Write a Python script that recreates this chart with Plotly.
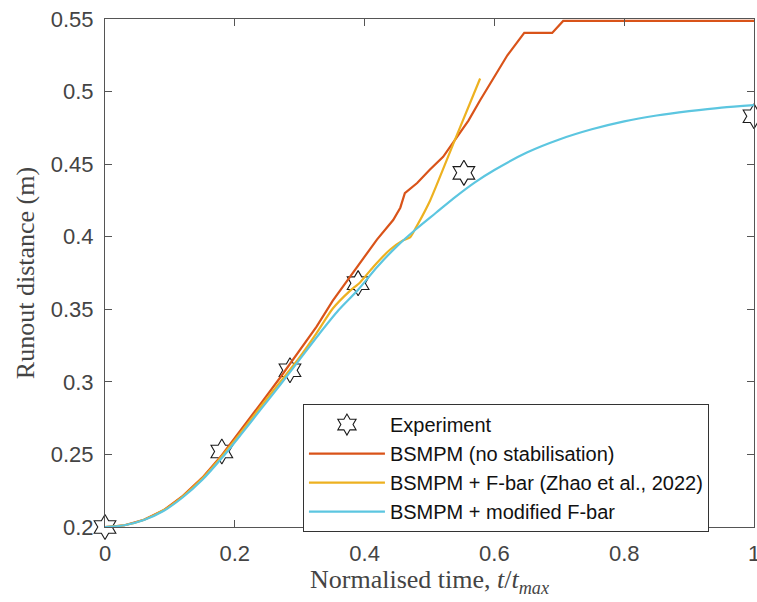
import plotly.graph_objects as go

# Experiment
t_exp = [0, 0.18, 0.285, 0.39, 0.553, 1.0]
y_exp = [0.2, 0.252, 0.308, 0.368, 0.444, 0.483]

# BSMPM (no stabilisation)
t_red = [0, 0.03, 0.06, 0.09, 0.12, 0.15, 0.18, 0.21, 0.24, 0.27, 0.30, 0.326, 0.351, 0.377,
         0.393, 0.419, 0.444, 0.455, 0.462, 0.481, 0.50, 0.521, 0.539, 0.56, 0.578, 0.60,
         0.62, 0.646, 0.689, 0.706, 1.0]
y_red = [0.2, 0.2012, 0.205, 0.2115, 0.2215, 0.234, 0.2495, 0.267, 0.285, 0.303, 0.322, 0.338,
         0.356, 0.372, 0.3826, 0.398, 0.4115, 0.420, 0.430, 0.437, 0.446, 0.455, 0.4666, 0.480,
         0.494, 0.510, 0.525, 0.5404, 0.5404, 0.5487, 0.5487]

# BSMPM + F-bar (Zhao et al., 2022)
t_yel = [0, 0.03, 0.06, 0.09, 0.12, 0.15, 0.18, 0.21, 0.24, 0.27, 0.30, 0.326, 0.351, 0.377,
         0.393, 0.413, 0.439, 0.459, 0.47, 0.48, 0.501, 0.539, 0.578]
y_yel = [0.2, 0.2012, 0.205, 0.2115, 0.2212, 0.2335, 0.2488, 0.2655, 0.283, 0.3, 0.317, 0.3336,
         0.3505, 0.3625, 0.3685, 0.379, 0.391, 0.3975, 0.3995, 0.407, 0.425, 0.4666, 0.509]

# BSMPM + modified F-bar
t_cyan = [0, 0.03, 0.06, 0.09, 0.12, 0.15, 0.18, 0.21, 0.24, 0.27, 0.30, 0.33, 0.36, 0.39, 0.42,
          0.45, 0.48, 0.51, 0.54, 0.57, 0.60, 0.65, 0.70, 0.75, 0.80, 0.85, 0.90, 0.95, 1.0]
y_cyan = [0.2, 0.2012, 0.2048, 0.211, 0.2205, 0.2325, 0.2475, 0.264, 0.281, 0.298, 0.3155, 0.333,
          0.3495, 0.3635, 0.3795, 0.3935, 0.4055, 0.4165, 0.4275, 0.4375, 0.446, 0.458, 0.467,
          0.474, 0.4795, 0.4835, 0.4865, 0.489, 0.4907]

x_ticks = [0, 0.2, 0.4, 0.6, 0.8, 1]
x_ticklabels = ["0", "0.2", "0.4", "0.6", "0.8", "1"]
y_ticks = [0.2, 0.25, 0.3, 0.35, 0.4, 0.45, 0.5, 0.55]
y_ticklabels = ["0.2", "0.25", "0.3", "0.35", "0.4", "0.45", "0.5", "0.55"]

fig = go.Figure()
fig.add_trace(go.Scatter(x=t_exp, y=y_exp, mode="markers", name="Experiment",
                         marker=dict(symbol="hexagram-open", size=19, color="#1a1a1a",
                                     line=dict(width=1.1, color="#1a1a1a")),
                         cliponaxis=False))
fig.add_trace(go.Scatter(x=t_red, y=y_red, mode="lines", name="BSMPM (no stabilisation)",
                         line=dict(color="#D95319", width=2.2)))
fig.add_trace(go.Scatter(x=t_yel, y=y_yel, mode="lines", name="BSMPM + F-bar (Zhao et al., 2022)",
                         line=dict(color="#EDB120", width=2.2, shape="spline", smoothing=0.6)))
fig.add_trace(go.Scatter(x=t_cyan, y=y_cyan, mode="lines", name="BSMPM + modified F-bar",
                         line=dict(color="#5CC6E0", width=2.2, shape="spline", smoothing=0.8)))

axis_common = dict(showline=True, linecolor="#555", linewidth=1.2, mirror="ticks",
                   ticks="inside", ticklen=7, tickcolor="#555", tickwidth=1,
                   showgrid=False, zeroline=False, automargin=False,
                   ticklabeloverflow="allow",
                   tickfont=dict(family="Liberation Sans, Arial", size=22, color="#444"))

fig.update_layout(
    width=757, height=602,
    margin=dict(l=105, r=3, t=19, b=75),
    paper_bgcolor="white", plot_bgcolor="white",
    xaxis=dict(range=[0, 1], tickvals=x_ticks, ticktext=x_ticklabels,
               title=dict(text="Normalised time, <i>t</i>/<i>t</i><sub><i>max</i></sub>",
                          font=dict(family="Liberation Serif, Times New Roman", size=26, color="#444"),
                          standoff=4),
               ticklabelstandoff=6,
               **axis_common),
    yaxis=dict(range=[0.2, 0.55], tickvals=y_ticks, ticktext=y_ticklabels,
               title=dict(text="Runout distance (m)",
                          font=dict(family="Liberation Serif, Times New Roman", size=26, color="#444"),
                          standoff=8),
               ticklabelstandoff=6,
               **axis_common),
    legend=dict(x=0.305, y=0.242, xanchor="left", yanchor="top",
                bgcolor="white", bordercolor="#333", borderwidth=1,
                font=dict(family="Liberation Sans, Arial", size=20, color="#111"),
                itemwidth=76, tracegroupgap=0),
    showlegend=True,
)

fig.write_html("out.html", config={"displayModeBar": False},
               post_script="document.body.style.margin='0';document.body.style.overflow='hidden';")
